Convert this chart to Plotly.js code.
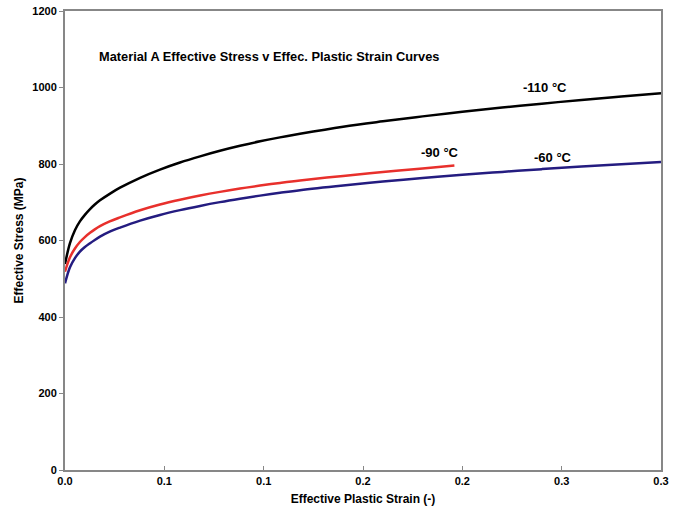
<!DOCTYPE html>
<html>
<head>
<meta charset="utf-8">
<script src="https://cdn.plot.ly/plotly-3.0.1.min.js"></script>
<style>html,body{margin:0;padding:0;background:#fff;}#chart{width:678px;height:518px;}</style>
</head>
<body>
<div id="chart"></div>
<script>
// Strain values (-) and effective stress (MPa)
const strainBlack = [0, 0.0025, 0.005, 0.0075, 0.01, 0.0126, 0.015, 0.0176, 0.0225, 0.0277, 0.0378, 0.0478, 0.0579, 0.068, 0.078, 0.0881, 0.0982, 0.1082, 0.1183, 0.14, 0.16, 0.18, 0.2, 0.22, 0.24, 0.26, 0.28, 0.3];
const stressBlack = [538.6, 593, 627, 650, 667, 682, 694, 705, 722, 738, 764, 785.5, 804, 820, 834.5, 847.5, 859.3, 869.6, 879, 897.5, 911.5, 924.5, 936.5, 947.5, 957.8, 967.4, 976.4, 985];

const strainRed = [0, 0.0025, 0.005, 0.0075, 0.01, 0.0126, 0.015, 0.0176, 0.0225, 0.0277, 0.0378, 0.0478, 0.0579, 0.068, 0.078, 0.0881, 0.0982, 0.1082, 0.1183, 0.14, 0.16, 0.18, 0.196];
const stressRed = [518.5, 556, 579, 596, 609, 620, 629, 637.5, 650, 660.5, 679, 694, 706.5, 717.5, 727.1, 735.8, 743.5, 750.5, 757, 768.8, 779, 788.4, 795.8];

const strainBlue = [0, 0.0025, 0.005, 0.0075, 0.01, 0.0126, 0.015, 0.0176, 0.0225, 0.0277, 0.0378, 0.0478, 0.0579, 0.068, 0.078, 0.0881, 0.0982, 0.1082, 0.1183, 0.14, 0.16, 0.18, 0.2, 0.22, 0.24, 0.26, 0.28, 0.3];
const stressBlue = [488, 530, 554, 571, 583, 593, 601.5, 610, 623, 633.7, 652, 666.8, 679.4, 690.4, 700.3, 709.2, 717.3, 724.7, 731.6, 743.8, 754, 763.2, 771.6, 779.4, 786.6, 793.4, 799.6, 805.4];

const seriesNames = ['-110 °C', '-90 °C', '-60 °C'];
const xTickVals = [0, 0.05, 0.1, 0.15, 0.2, 0.25, 0.3];
const xTickText = ['0.0', '0.1', '0.1', '0.2', '0.2', '0.3', '0.3'];
const yTickVals = [0, 200, 400, 600, 800, 1000, 1200];

const font = 'Liberation Sans, Arial, sans-serif';

const traces = [
  {x: strainBlack, y: stressBlack, name: seriesNames[0], mode: 'lines', line: {color: '#000000', width: 2.5, shape: 'spline', smoothing: 1}},
  {x: strainRed, y: stressRed, name: seriesNames[1], mode: 'lines', line: {color: '#e8302c', width: 2.5, shape: 'spline', smoothing: 1}},
  {x: strainBlue, y: stressBlue, name: seriesNames[2], mode: 'lines', line: {color: '#241c80', width: 2.5, shape: 'spline', smoothing: 1}}
];

const annFont = {family: font, size: 13, color: '#000'};
const layout = {
  width: 678, height: 518,
  margin: {l: 65, r: 17, t: 11, b: 48},
  paper_bgcolor: '#ffffff', plot_bgcolor: '#ffffff',
  showlegend: false,
  font: {family: font, color: '#000'},
  xaxis: {
    range: [0, 0.3], tickvals: xTickVals, ticktext: xTickText,
    showgrid: false, zeroline: false,
    showline: true, linecolor: '#878787', linewidth: 2, mirror: true,
    ticks: 'inside', ticklen: 4, tickcolor: '#878787', tickwidth: 1,
    tickfont: {family: font, size: 11, weight: 'bold'},
    title: {text: '<b>Effective Plastic Strain (-)</b>', font: {family: font, size: 12}, standoff: 8}
  },
  yaxis: {
    range: [0, 1200], tickvals: yTickVals,
    showgrid: false, zeroline: false,
    showline: true, linecolor: '#878787', linewidth: 2, mirror: true,
    ticks: 'outside', ticklen: 4, tickcolor: '#878787', tickwidth: 1,
    tickfont: {family: font, size: 11, weight: 'bold'},
    title: {text: '<b>Effective Stress (MPa)</b>', font: {family: font, size: 12}, standoff: 6}
  },
  annotations: [
    {x: 0.0162, y: 1082, xref: 'x', yref: 'y', xanchor: 'left', yanchor: 'middle', showarrow: false,
     text: '<b>Material A Effective Stress v Effec. Plastic Strain Curves</b>', font: {family: font, size: 12.8, color: '#000'}},
    {x: 0.2416, y: 1001, xref: 'x', yref: 'y', showarrow: false, text: '<b>' + seriesNames[0] + '</b>', font: annFont},
    {x: 0.189, y: 831, xref: 'x', yref: 'y', showarrow: false, text: '<b>' + seriesNames[1] + '</b>', font: annFont},
    {x: 0.2456, y: 816, xref: 'x', yref: 'y', showarrow: false, text: '<b>' + seriesNames[2] + '</b>', font: annFont}
  ]
};

Plotly.newPlot('chart', traces, layout, {displayModeBar: false, staticPlot: true});
</script>
</body>
</html>
